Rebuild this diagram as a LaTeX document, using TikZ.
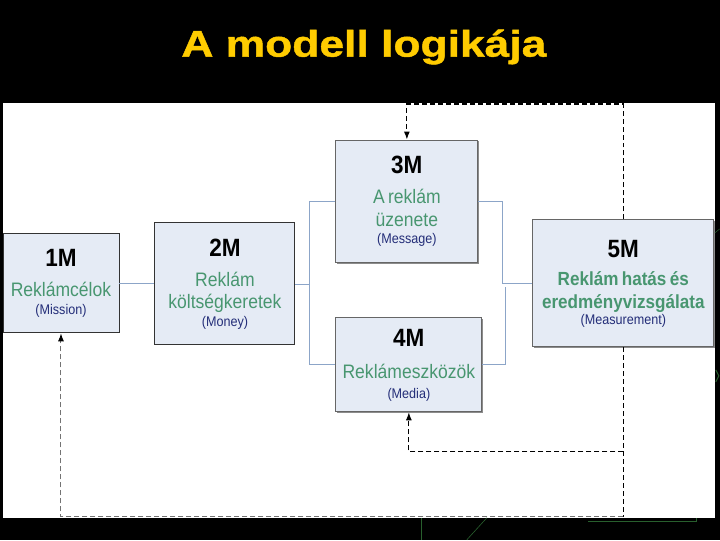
\documentclass[tikz,border=0pt]{standalone}
\usepackage{fontspec}
\setmainfont{Liberation Sans}[FakeStretch=0.9]
\newfontfamily\titlefont{Liberation Sans}[FakeStretch=1.2, FakeBold=1.2]
\usetikzlibrary{arrows.meta,shadows}

\definecolor{mfill}{RGB}{229,235,245}
\definecolor{mgreen}{RGB}{72,150,112}
\definecolor{mnavy}{RGB}{35,45,120}
\definecolor{mlink}{RGB}{140,165,200}
\definecolor{mtitle}{RGB}{255,204,0}
\definecolor{mjunk}{RGB}{40,95,45}

% line fonts inside the boxes
\newcommand\mhd{\fontsize{25}{28}\selectfont\bfseries\color{black}}
\newcommand\mgr{\fontsize{19.5}{30}\selectfont\mdseries\color{mgreen}}
\newcommand\mgrr{\fontsize{19.5}{22.5}\selectfont\mdseries\color{mgreen}}
\newcommand\mpa{\fontsize{14}{17.5}\selectfont\mdseries\color{mnavy}}

\begin{document}
\begin{tikzpicture}[x=1pt, y=-1pt,
    mbox/.style={draw=black!80, line width=0.9pt, fill=mfill, inner sep=0pt, align=center},
    shadowed/.style={draw=black!60, drop shadow={shadow xshift=1.5pt, shadow yshift=-1.5pt, fill=black!45, opacity=1}},
    link/.style={draw=mlink, line width=0.8pt},
    fb/.style={draw=black, line width=1.1pt, dash pattern=on 5pt off 3pt},
    fbarrow/.style={fb, -{Latex[length=8pt, width=6pt, color=black]}},
]

% slide
\fill[black] (0,0) rectangle (720,540);
\fill[white] (3,103) rectangle (715,518);

\node[text=mtitle, font=\titlefont\bfseries\fontsize{37}{40}\selectfont] (title) at (364,47) {A modell logikája};

% the five M boxes
\node[mbox, minimum width=116pt, minimum height=99pt, text width=114pt] (m1) at (61,283.5)
  {\mhd 1M\par\mgr Reklámcélok\par\mpa (Mission)\par};
\node[mbox, minimum width=140pt, minimum height=122pt, text width=138pt] (m2) at (225,284)
  {\mhd 2M\par\mgr Reklám\par\mgrr költségkeretek\par\mpa (Money)\par};
\node[mbox, shadowed, minimum width=142pt, minimum height=123pt, text width=140pt] (m3) at (407,201.5)
  {\mhd 3M\par\mgr A reklám\par\mgrr üzenete\par\mpa (Message)\par};
\node[mbox, shadowed, minimum width=146pt, minimum height=94pt, text width=144pt] (m4) at (409,365)
  {\mhd 4M\par\fontsize{19.5}{32}\selectfont\mdseries\color{mgreen} Reklámeszközök\par
   \fontsize{14}{20}\selectfont\mdseries\color{mnavy} (Media)\par};
\node[mbox, shadowed, minimum width=181pt, minimum height=127pt, text width=180pt] (m5) at (623.5,283.5)
  {\mhd 5M\par\fontsize{19}{28}\selectfont\bfseries\color{mgreen} Reklám hatás és\par
   \fontsize{19}{23}\selectfont\bfseries\color{mgreen} eredményvizsgálata\par
   \fontsize{14}{16}\selectfont\mdseries\color{mnavy} (Measurement)\par};

% plain connectors
\coordinate (bl) at (310,284);
\coordinate (br) at (503,283.5);
\coordinate (br2) at (506,287);
\draw[link] (m1.east) -- (m1.east -| m2.west);
\draw[link] (m2.east) -- (bl);
\draw[link] (m3.west) -| (bl) |- (m4.west);
\draw[link] (m3.east) -| (br) -- (m5.west);
\draw[link] (m4.east) -| (br2);

% feedback loops
\coordinate (ftop) at (407,104);
\coordinate (fmid) at (409,452);
\coordinate (fbot) at (61,517);
\draw[fbarrow] (m5.north) |- (ftop) -- (m3.north);
\draw[fb] (m5.south) -- (m5.south |- fbot);
\draw[fbarrow] (m5.south |- fmid) -- (fmid) -- (m4.south);
\draw[fbarrow, draw=black!55, line width=1pt] (m5.south |- fbot) -- (fbot) -- (m1.south);

% leftovers of the slide
\draw[mjunk, line width=0.8pt] (422,518) -- (422,540);
\draw[mjunk, line width=0.6pt] (467,540) -- (487,518);
\draw[mjunk, line width=1.2pt] (588,521.5) -- (697,521.5) -- (697,518);
\draw[mjunk, line width=1pt] (716,370) -- (719,376) -- (716,382);
\draw[mjunk, line width=0.5pt] (715,233) -- (720,229);

\end{tikzpicture}
\end{document}
